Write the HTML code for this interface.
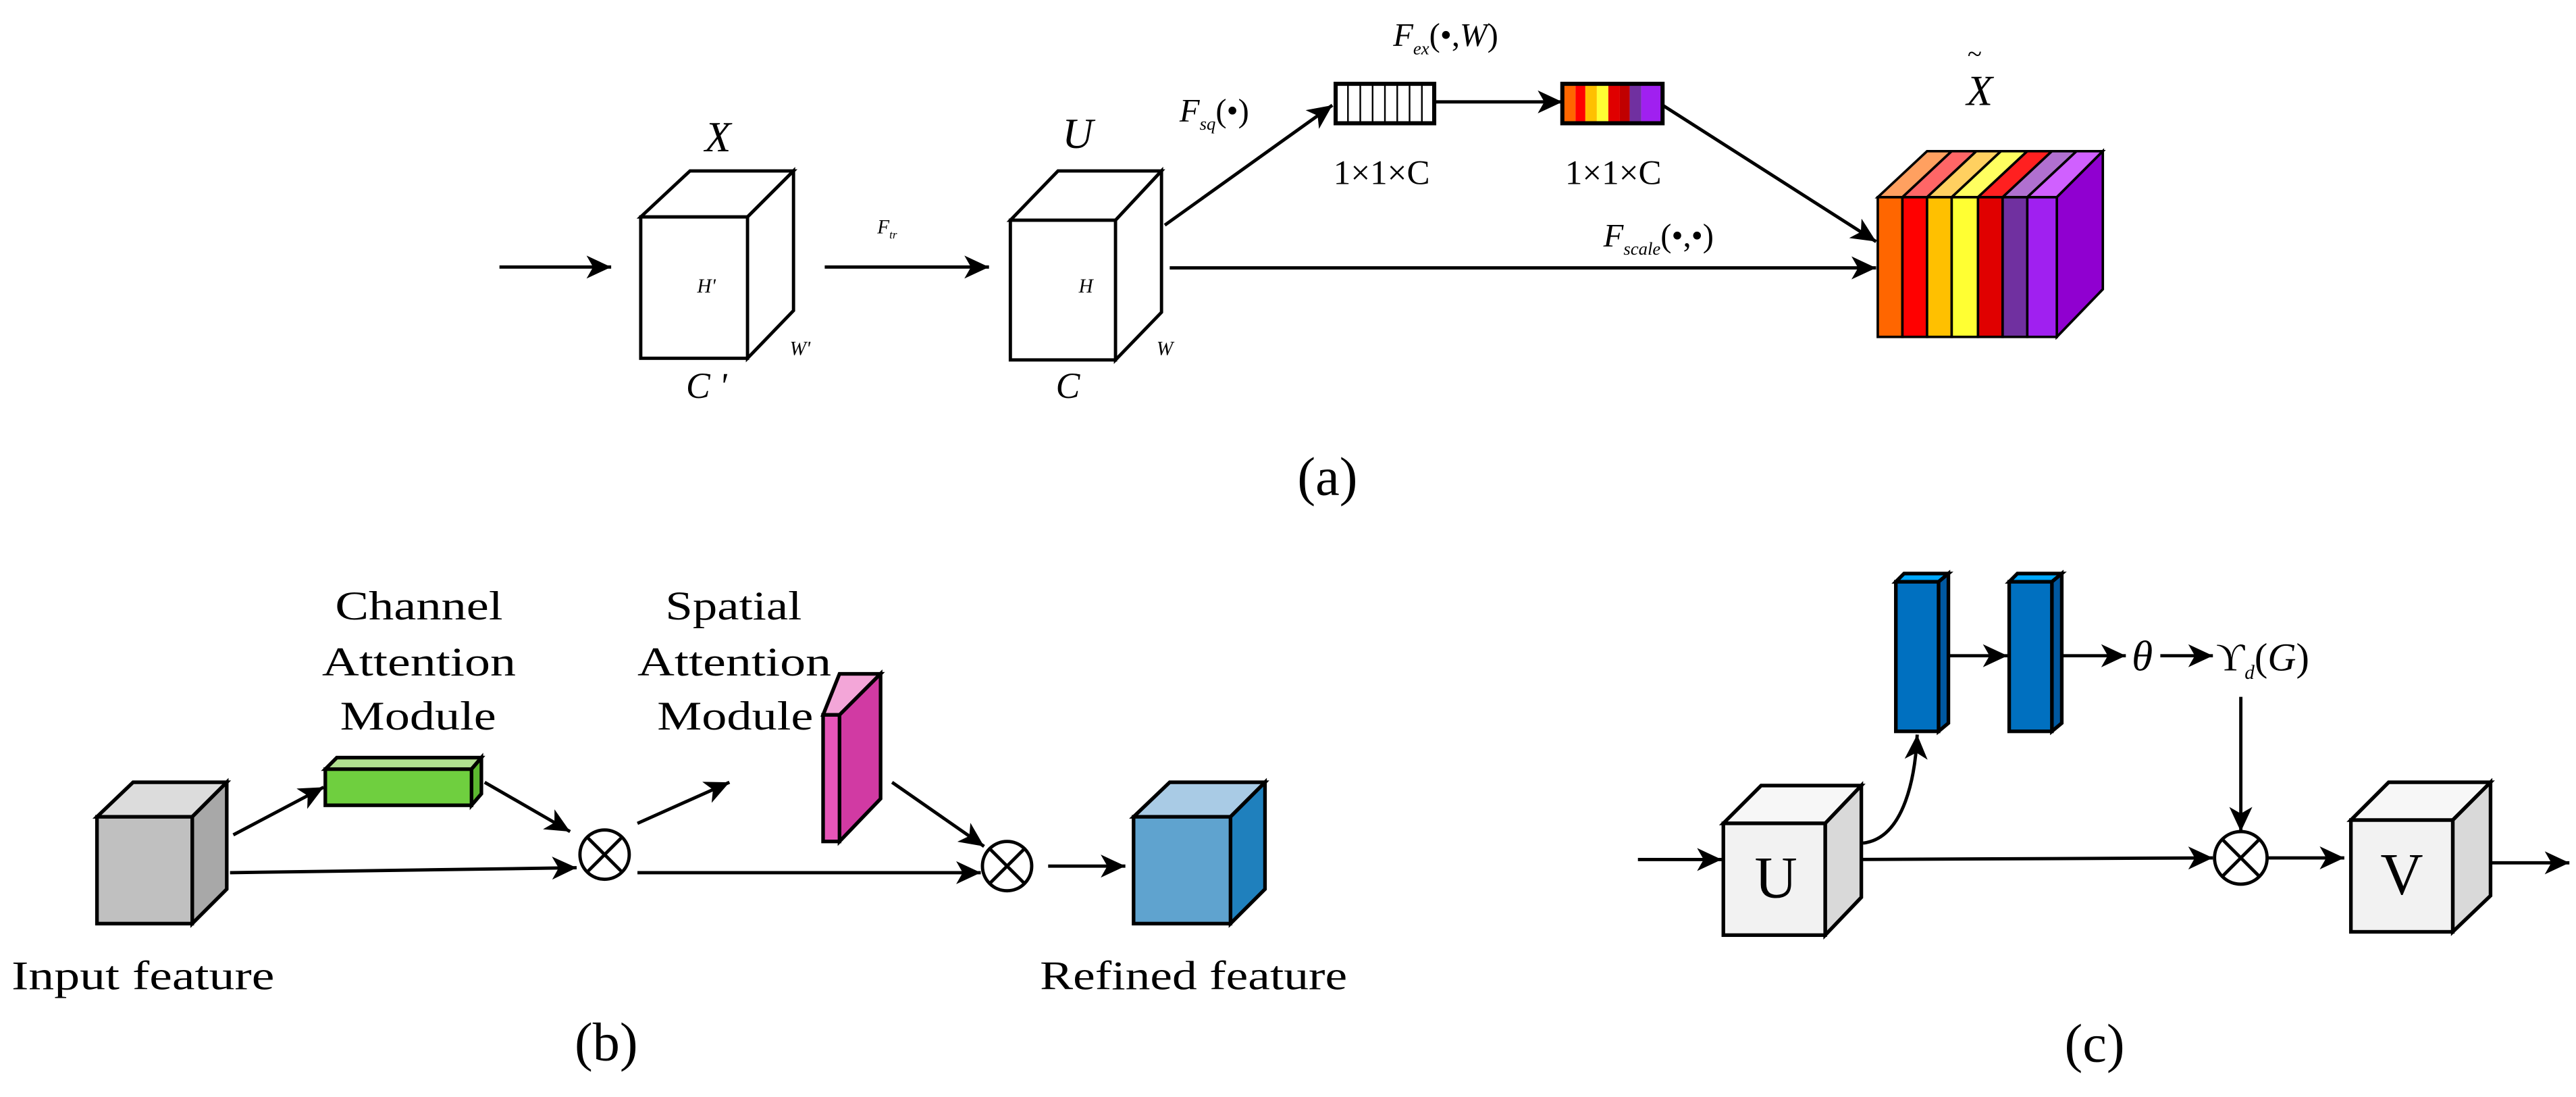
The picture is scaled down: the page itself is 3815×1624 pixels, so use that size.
<!DOCTYPE html>
<html><head><meta charset="utf-8"><style>
html,body{margin:0;padding:0;background:#fff;}
svg{display:block;}
text{font-family:"Liberation Serif",serif;fill:#000;}
</style></head><body>
<svg width="3815" height="1624" viewBox="0 0 1568 667.5" xmlns="http://www.w3.org/2000/svg">
<defs>
<marker id="ah" markerUnits="userSpaceOnUse" markerWidth="16" markerHeight="14" refX="15" refY="7" orient="auto">
<path d="M0,0 L15,7 L0,14 L4,7 Z" fill="#000"/></marker>
</defs>
<rect width="1568" height="667.5" fill="#fff"/>
<g stroke="#000" stroke-width="2" fill="none">
<!-- (a) -->
<line x1="304" y1="162.5" x2="372" y2="162.5" marker-end="url(#ah)"/>
<line x1="502" y1="162.5" x2="602" y2="162.5" marker-end="url(#ah)"/>
<line x1="709" y1="137" x2="811" y2="64" marker-end="url(#ah)"/>
<line x1="873" y1="62" x2="951" y2="62" marker-end="url(#ah)"/>
<line x1="1012" y1="64" x2="1142" y2="147" marker-end="url(#ah)"/>
<line x1="712" y1="163" x2="1142" y2="163" marker-end="url(#ah)"/>
</g>
<g stroke="#000" stroke-width="2" fill="#fff">
<polygon points="390,132 420,104 483,104 455,132"/>
<polygon points="455,132 483,104 483,189 455,218"/>
<rect x="390" y="132" width="65" height="86"/>
<polygon points="615,134 644,104 707,104 679,134"/>
<polygon points="679,134 707,104 707,190 679,219"/>
<rect x="615" y="134" width="64" height="85"/>
</g>
<g font-style="italic">
<text x="437" y="92" font-size="26" text-anchor="middle">X</text>
<text x="430" y="178" font-size="12" text-anchor="middle">H'</text>
<text x="487" y="216" font-size="12" text-anchor="middle">W'</text>
<text x="430" y="242" font-size="22" text-anchor="middle">C '</text>
<text x="540" y="142" font-size="12" text-anchor="middle">F<tspan font-size="7" dy="3">tr</tspan></text>
<text x="656" y="90" font-size="26" text-anchor="middle">U</text>
<text x="661" y="178" font-size="12" text-anchor="middle">H</text>
<text x="709" y="216" font-size="12" text-anchor="middle">W</text>
<text x="650" y="242" font-size="22" text-anchor="middle">C</text>
<text x="718" y="74" font-size="20">F<tspan font-size="11" dy="5">sq</tspan><tspan dy="-5" font-style="normal">(•)</tspan></text>
<text x="848" y="28" font-size="20">F<tspan font-size="11" dy="5">ex</tspan><tspan dy="-5" font-style="normal">(•,</tspan>W<tspan font-style="normal">)</tspan></text>
<text x="976" y="150" font-size="20">F<tspan font-size="11" dy="5">scale</tspan><tspan dy="-5" font-style="normal">(•,•)</tspan></text>
<text x="1205" y="64" font-size="26" text-anchor="middle">X</text>
</g>
<text x="1202" y="38" font-size="16" text-anchor="middle">~</text>
<text x="841" y="112" font-size="21" text-anchor="middle" font-family="Liberation Sans">1×1×C</text>
<text x="982" y="112" font-size="21" text-anchor="middle" font-family="Liberation Sans">1×1×C</text>
<rect x="813" y="51" width="60" height="24" fill="#fff" stroke="#000" stroke-width="2.5"/>
<g stroke="#000" stroke-width="1">
<line x1="820.5" y1="51" x2="820.5" y2="75"/><line x1="828" y1="51" x2="828" y2="75"/><line x1="835.5" y1="51" x2="835.5" y2="75"/><line x1="843" y1="51" x2="843" y2="75"/><line x1="850.5" y1="51" x2="850.5" y2="75"/><line x1="858" y1="51" x2="858" y2="75"/><line x1="865.5" y1="51" x2="865.5" y2="75"/>
</g>
<g>
<rect x="951" y="51" width="8" height="24" fill="#ff6600"/><rect x="959" y="51" width="6" height="24" fill="#ff0000"/><rect x="965" y="51" width="7" height="24" fill="#ffc000"/><rect x="972" y="51" width="7" height="24" fill="#ffff33"/><rect x="979" y="51" width="7" height="24" fill="#e00000"/><rect x="986" y="51" width="6" height="24" fill="#c00000"/><rect x="992" y="51" width="7" height="24" fill="#7030a0"/><rect x="999" y="51" width="13" height="24" fill="#a020f0"/>
<rect x="951" y="51" width="61" height="24" fill="none" stroke="#000" stroke-width="2.5"/>
</g>
<g stroke="#000" stroke-width="1.5">
<polygon points="1143,120 1173,92 1188,92 1158,120" fill="#ffa060"/>
<polygon points="1158,120 1188,92 1203,92 1173,120" fill="#ff6666"/>
<polygon points="1173,120 1203,92 1218,92 1188,120" fill="#ffd060"/>
<polygon points="1188,120 1218,92 1234,92 1204,120" fill="#ffff60"/>
<polygon points="1204,120 1234,92 1249,92 1219,120" fill="#ff2020"/>
<polygon points="1219,120 1249,92 1264,92 1234,120" fill="#b070d0"/>
<polygon points="1234,120 1264,92 1280,92 1252,120" fill="#d060ff"/>
<polygon points="1252,120 1280,92 1280,176 1252,205" fill="#9000d0"/>
<rect x="1143" y="120" width="15" height="85" fill="#ff6600"/>
<rect x="1158" y="120" width="15" height="85" fill="#ff0000"/>
<rect x="1173" y="120" width="15" height="85" fill="#ffc000"/>
<rect x="1188" y="120" width="16" height="85" fill="#ffff33"/>
<rect x="1204" y="120" width="15" height="85" fill="#e00000"/>
<rect x="1219" y="120" width="15" height="85" fill="#7030a0"/>
<rect x="1234" y="120" width="18" height="85" fill="#a020f0"/>
</g>
<text x="808" y="301" font-size="33" text-anchor="middle">(a)</text>

<!-- (b) -->
<g stroke="#000" stroke-width="2" fill="none">
<line x1="142" y1="508" x2="197" y2="479" marker-end="url(#ah)"/>
<line x1="295" y1="476" x2="347" y2="506" marker-end="url(#ah)"/>
<line x1="140" y1="531" x2="351" y2="528" marker-end="url(#ah)"/>
<line x1="388" y1="501" x2="444" y2="476" marker-end="url(#ah)"/>
<line x1="543" y1="476" x2="599" y2="515" marker-end="url(#ah)"/>
<line x1="388" y1="531" x2="597" y2="531" marker-end="url(#ah)"/>
<line x1="638" y1="527" x2="685" y2="527" marker-end="url(#ah)"/>
</g>
<g stroke="#000" stroke-width="2.2">
<polygon points="59,497 81,476 138,476 117,497" fill="#dcdcdc"/>
<polygon points="117,497 138,476 138,541 117,562" fill="#a8a8a8"/>
<rect x="59" y="497" width="58" height="65" fill="#c0c0c0"/>
<polygon points="198,468 205,461 293,461 287,468" fill="#b0e090"/>
<polygon points="287,468 293,461 293,483 287,490" fill="#5cb830"/>
<rect x="198" y="468" width="89" height="22" fill="#6fcf3f"/>
<polygon points="501,435 511,410 536,410 511,435" fill="#f3a6d8"/>
<polygon points="511,435 536,410 536,486 511,512" fill="#d13aa3"/>
<rect x="501" y="435" width="10" height="77" fill="#e655b8"/>
<polygon points="690,497 712,476 770,476 749,497" fill="#a9cbe5"/>
<polygon points="749,497 770,476 770,541 749,562" fill="#1f80bd"/>
<rect x="690" y="497" width="59" height="65" fill="#5fa3cf"/>
</g>
<g stroke="#000" stroke-width="2" fill="#fff">
<circle cx="368" cy="520" r="15"/>
<line x1="357.4" y1="509.4" x2="378.6" y2="530.6"/><line x1="378.6" y1="509.4" x2="357.4" y2="530.6"/>
<circle cx="613" cy="527" r="15"/>
<line x1="602.4" y1="516.4" x2="623.6" y2="537.6"/><line x1="623.6" y1="516.4" x2="602.4" y2="537.6"/>
</g>
<g font-size="25">
<text x="204" y="377" textLength="102" lengthAdjust="spacingAndGlyphs">Channel</text>
<text x="196" y="411" textLength="118" lengthAdjust="spacingAndGlyphs">Attention</text>
<text x="207" y="444" textLength="95" lengthAdjust="spacingAndGlyphs">Module</text>
<text x="405" y="377" textLength="83" lengthAdjust="spacingAndGlyphs">Spatial</text>
<text x="388" y="411" textLength="118" lengthAdjust="spacingAndGlyphs">Attention</text>
<text x="400" y="444" textLength="95" lengthAdjust="spacingAndGlyphs">Module</text>
<text x="7" y="602" textLength="160" lengthAdjust="spacingAndGlyphs">Input feature</text>
<text x="633" y="602" textLength="187" lengthAdjust="spacingAndGlyphs">Refined feature</text>
</g>
<text x="369" y="645" font-size="33" text-anchor="middle">(b)</text>

<!-- (c) -->
<g stroke="#000" stroke-width="2" fill="none">
<line x1="997" y1="523" x2="1048" y2="523" marker-end="url(#ah)"/>
<path d="M1134,513 C1160,510 1166,470 1167,447" marker-end="url(#ah)"/>
<line x1="1186" y1="399" x2="1222" y2="399" marker-end="url(#ah)"/>
<line x1="1255" y1="399" x2="1294" y2="399" marker-end="url(#ah)"/>
<line x1="1315" y1="399" x2="1347" y2="399" marker-end="url(#ah)"/>
<line x1="1364" y1="424" x2="1364" y2="506" marker-end="url(#ah)"/>
<line x1="1123" y1="523" x2="1347" y2="522" marker-end="url(#ah)"/>
<line x1="1380" y1="522" x2="1427" y2="522" marker-end="url(#ah)"/>
<line x1="1501" y1="525" x2="1564" y2="525" marker-end="url(#ah)"/>
</g>
<g stroke="#000" stroke-width="2.2">
<polygon points="1049,501 1072,478 1133,478 1111,501" fill="#f7f7f7"/>
<polygon points="1111,501 1133,478 1133,546 1111,569" fill="#d9d9d9"/>
<rect x="1049" y="501" width="62" height="68" fill="#f2f2f2"/>
<polygon points="1431,499 1454,476 1516,476 1493,499" fill="#f7f7f7"/>
<polygon points="1493,499 1516,476 1516,545 1493,567" fill="#d9d9d9"/>
<rect x="1431" y="499" width="62" height="68" fill="#f2f2f2"/>
<polygon points="1154,354 1159,349 1186,349 1180,354" fill="#00a8ff"/>
<polygon points="1180,354 1186,349 1186,440 1180,445" fill="#0058a0"/>
<rect x="1154" y="354" width="26" height="91" fill="#0070c0"/>
<polygon points="1223,354 1228,349 1255,349 1249,354" fill="#00a8ff"/>
<polygon points="1249,354 1255,349 1255,440 1249,445" fill="#0058a0"/>
<rect x="1223" y="354" width="26" height="91" fill="#0070c0"/>
</g>
<g stroke="#000" stroke-width="2" fill="#fff">
<ellipse cx="1364" cy="522" rx="16" ry="16"/>
<line x1="1352.7" y1="510.7" x2="1375.3" y2="533.3"/><line x1="1375.3" y1="510.7" x2="1352.7" y2="533.3"/>
</g>
<text x="1081" y="546" font-size="36" text-anchor="middle">U</text>
<text x="1462" y="544" font-size="36" text-anchor="middle">V</text>
<text x="1304" y="408" font-size="26" font-style="italic" text-anchor="middle">θ</text>
<text x="1349" y="408" font-size="24">ϒ<tspan font-size="12" font-style="italic" dy="5">d</tspan><tspan dy="-5">(</tspan><tspan font-style="italic">G</tspan>)</text>
<text x="1275" y="646" font-size="33" text-anchor="middle">(c)</text>
</svg>
</body></html>
